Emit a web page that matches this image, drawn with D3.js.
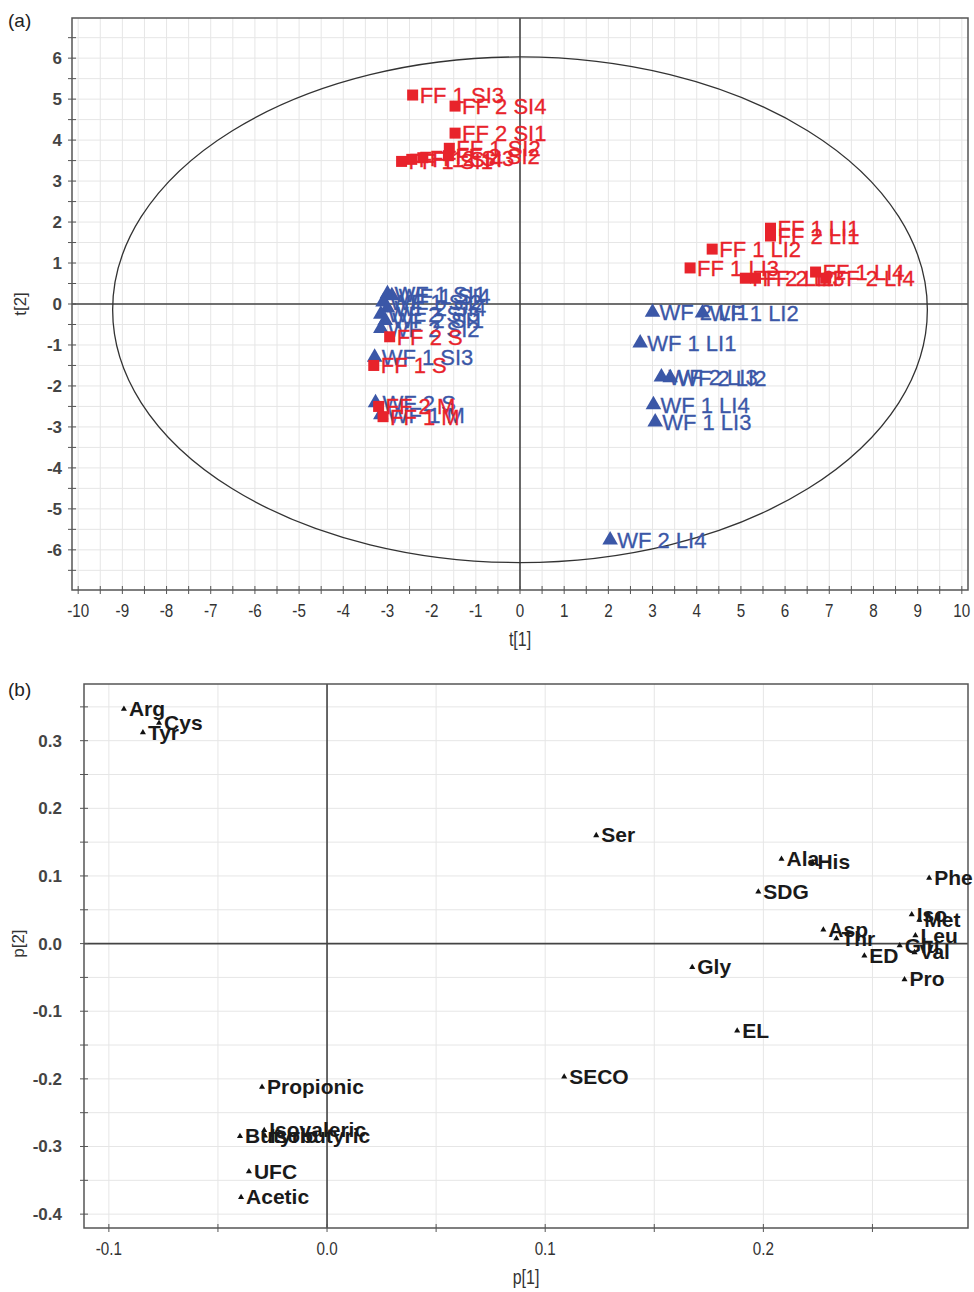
<!DOCTYPE html>
<html>
<head>
<meta charset="utf-8">
<script src="https://cdn.jsdelivr.net/npm/d3@7"></script>
<style>
  body { margin: 0; background: #fff; }
  svg text { font-family: "Liberation Sans", Arial, sans-serif; }
</style>
</head>
<body>
<svg id="chart" width="974" height="1292"></svg>
<script>
// ---- panel (a) scores ----
const ffNames = ['FF 1 SI3', 'FF 2 SI4', 'FF 2 SI1', 'FF 1 SI2', 'FF 1 SI1', 'FF 1 SI4', 'FF 2 SI3', 'FF 2 SI2',
                 'FF 1 LI1', 'FF 2 LI1', 'FF 1 LI2', 'FF 1 LI3', 'FF 2 LI2', 'FF 2 LI3', 'FF 1 LI4', 'FF 2 LI4',
                 'FF 2 S', 'FF 1 S', 'FF 2 M', 'FF 1 M'];
const ffT1 = [-2.43, -1.47, -1.47, -1.6, -2.68, -2.45, -2.2, -1.62,
              5.67, 5.67, 4.35, 3.85, 5.1, 5.33, 6.69, 6.92,
              -2.95, -3.31, -3.2, -3.1];
const ffT2 = [5.1, 4.83, 4.17, 3.8, 3.48, 3.53, 3.57, 3.62,
              1.85, 1.66, 1.34, 0.88, 0.63, 0.63, 0.78, 0.63,
              -0.8, -1.5, -2.5, -2.75];

const wfNames = ['WF 1 SI1', 'WF 1 SI4', 'WF 1 SI2', 'WF 2 SI4', 'WF 2 SI3', 'WF 2 SI1', 'WF 2 SI2',
                 'WF 1 SI3', 'WF 2 S', 'WF 1 M',
                 'WF 2 LI1', 'WF 1 LI2', 'WF 1 LI1', 'WF 2 LI3', 'WF 2 LI2', 'WF 1 LI4', 'WF 1 LI3', 'WF 2 LI4'];
const wfT1 = [-3.0, -2.9, -3.1, -3.0, -3.15, -3.05, -3.15,
              -3.29, -3.27, -3.15,
              3.0, 4.13, 2.72, 3.2, 3.4, 3.02, 3.06, 2.04];
const wfT2 = [0.25, 0.2, 0.05, -0.1, -0.25, -0.4, -0.6,
              -1.3, -2.41, -2.7,
              -0.2, -0.22, -0.95, -1.78, -1.8, -2.46, -2.88, -5.76];

const ellipseCenter = [0, -0.14];
const ellipseRadii = [9.22, 6.17];
const aTicksX = d3.range(-10, 11, 1);
const aTicksY = d3.range(-6, 7, 1);

// ---- panel (b) loadings ----
const varNames = ['Arg', 'Cys', 'Tyr', 'Ser', 'Ala', 'His', 'Phe', 'SDG', 'Iso', 'Met', 'Asp', 'Thr', 'Leu', 'Glu',
                  'Val', 'ED', 'Pro', 'Gly', 'EL', 'SECO', 'Propionic', 'Butyric', 'Isobutyric', 'Isovaleric', 'UFC', 'Acetic'];
const p1 = [-0.0931, -0.077, -0.0844, 0.1234, 0.2083, 0.2225, 0.276, 0.1977, 0.268, 0.2715, 0.2275, 0.2335, 0.2697, 0.2625,
            0.2693, 0.2463, 0.2647, 0.1674, 0.188, 0.1087, -0.0298, -0.0399, -0.0285, -0.0288, -0.0358, -0.0394];
const p2 = [0.347, 0.326, 0.312, 0.16, 0.125, 0.12, 0.097, 0.0765, 0.043, 0.035, 0.0206, 0.0074, 0.0118, -0.003,
            -0.013, -0.018, -0.053, -0.035, -0.129, -0.197, -0.212, -0.285, -0.284, -0.276, -0.337, -0.375];

const bTicksX = [-0.1, 0.0, 0.1, 0.2];
const bTicksY = [-0.4, -0.3, -0.2, -0.1, 0.0, 0.1, 0.2, 0.3];

const red = '#e8232b';
const blue = '#3b57a7';

// plain hyphen instead of d3's unicode minus
const fmt1 = d => d3.format('.1f')(d).replace('\u2212', '-');

const svg = d3.select('#chart');
svg.append('rect').attr('width', 974).attr('height', 1292).attr('fill', '#fff');

// draws grid, frame, zero lines, ticks and tick labels
function drawAxes(x, y, opt) {
  const [x0, x1] = x.range();
  const [y0, y1] = y.range(); // y0 bottom, y1 top
  const g = svg.append('g');

  // grid
  g.selectAll('.gx').data(opt.gridX).enter().append('line')
    .attr('x1', d => x(d)).attr('x2', d => x(d)).attr('y1', y1).attr('y2', y0)
    .attr('stroke', '#e6e6e6').attr('stroke-width', 1);
  g.selectAll('.gy').data(opt.gridY).enter().append('line')
    .attr('y1', d => y(d)).attr('y2', d => y(d)).attr('x1', x0).attr('x2', x1)
    .attr('stroke', '#e6e6e6').attr('stroke-width', 1);

  // zero lines
  g.append('line').attr('x1', x(0)).attr('x2', x(0)).attr('y1', y1).attr('y2', y0)
    .attr('stroke', '#444').attr('stroke-width', 1.6);
  g.append('line').attr('x1', x0).attr('x2', x1).attr('y1', y(0)).attr('y2', y(0))
    .attr('stroke', '#444').attr('stroke-width', 1.6);

  // frame
  g.append('rect').attr('x', x0).attr('y', y1).attr('width', x1 - x0).attr('height', y0 - y1)
    .attr('fill', 'none').attr('stroke', '#555').attr('stroke-width', 1.5);

  // ticks (minor ones too)
  g.selectAll('.tx').data(opt.gridX).enter().append('line')
    .attr('x1', d => x(d)).attr('x2', d => x(d)).attr('y1', y0 - 4).attr('y2', y0 + 4)
    .attr('stroke', '#555');
  g.selectAll('.ty').data(opt.gridY).enter().append('line')
    .attr('y1', d => y(d)).attr('y2', d => y(d)).attr('x1', x0 - 4).attr('x2', x0 + 4)
    .attr('stroke', '#555');

  // x tick labels are narrow in the original, squeeze them
  g.selectAll('.lx').data(opt.ticksX).enter().append('text')
    .attr('transform', d => 'translate(' + x(d) + ',' + (y0 + 27) + ') scale(0.8,1)')
    .attr('text-anchor', 'middle')
    .style('font-size', '19px').attr('fill', '#333')
    .text(opt.fmtX);
  g.selectAll('.ly').data(opt.ticksY).enter().append('text')
    .attr('x', 62).attr('y', d => y(d) + 6)
    .attr('text-anchor', 'end')
    .style('font-size', '17px').style('font-weight', 'bold').attr('fill', '#444')
    .text(opt.fmtY);

  svg.append('text').attr('transform', 'translate(' + (x0 + x1) / 2 + ',' + (y0 + 56) + ') scale(0.8,1)')
    .attr('text-anchor', 'middle')
    .style('font-size', '20px').attr('fill', '#333').text(opt.titleX);
  svg.append('text').attr('transform', 'translate(' + opt.titleYx + ',' + y(0) + ') rotate(-90)')
    .attr('text-anchor', 'middle')
    .style('font-size', '17px').attr('fill', '#333').text(opt.titleY);
  svg.append('text').attr('x', 8).attr('y', opt.panelY)
    .style('font-size', '19px').attr('fill', '#222').text(opt.panel);
}

// ================= panel (a) =================
const xa = d3.scaleLinear().domain([-10.14, 10.14]).range([72, 968]);
const ya = d3.scaleLinear().domain([-6.98, 6.98]).range([590, 18]);

drawAxes(xa, ya, {
  gridX: d3.range(-10, 10.01, 0.5),
  gridY: d3.range(-6.5, 6.51, 0.5),
  ticksX: aTicksX, ticksY: aTicksY,
  fmtX: d => String(d), fmtY: d => String(d),
  titleX: 't[1]', titleY: 't[2]', titleYx: 26,
  panel: '(a)', panelY: 27
});

// Hotelling ellipse
svg.append('ellipse')
  .attr('cx', xa(ellipseCenter[0])).attr('cy', ya(ellipseCenter[1]))
  .attr('rx', xa(ellipseRadii[0]) - xa(0))
  .attr('ry', ya(0) - ya(ellipseRadii[1]))
  .attr('fill', 'none').attr('stroke', '#333').attr('stroke-width', 1.3);

const ffData = ffNames.map((n, i) => ({ name: n, x: ffT1[i], y: ffT2[i] }));
const wfData = wfNames.map((n, i) => ({ name: n, x: wfT1[i], y: wfT2[i] }));

const ga = svg.append('g');
ga.selectAll('.wf').data(wfData).enter().append('path')
  .attr('d', d3.symbol().type(d3.symbolTriangle).size(105))
  .attr('transform', d => 'translate(' + xa(d.x) + ',' + ya(d.y) + ')')
  .attr('fill', blue);
ga.selectAll('.wft').data(wfData).enter().append('text')
  .attr('x', d => xa(d.x) + 7).attr('y', d => ya(d.y) + 8)
  .style('font-size', '22px').attr('fill', blue)
  .attr('stroke', blue).attr('stroke-width', 0.3)
  .text(d => d.name);

ga.selectAll('.ff').data(ffData).enter().append('rect')
  .attr('x', d => xa(d.x) - 5.5).attr('y', d => ya(d.y) - 5.5)
  .attr('width', 11).attr('height', 11)
  .attr('fill', red);
ga.selectAll('.fft').data(ffData).enter().append('text')
  .attr('x', d => xa(d.x) + 7).attr('y', d => ya(d.y) + 8)
  .style('font-size', '22px').attr('fill', red)
  .attr('stroke', red).attr('stroke-width', 0.3)
  .text(d => d.name);

// ================= panel (b) =================
const xb = d3.scaleLinear().domain([-0.1114, 0.2938]).range([84, 968]);
const yb = d3.scaleLinear().domain([-0.4205, 0.3838]).range([1228, 684]);

drawAxes(xb, yb, {
  gridX: d3.range(-0.1, 0.2501, 0.05),
  gridY: d3.range(-0.4, 0.3501, 0.05),
  ticksX: bTicksX, ticksY: bTicksY,
  fmtX: fmt1, fmtY: fmt1,
  titleX: 'p[1]', titleY: 'p[2]', titleYx: 24,
  panel: '(b)', panelY: 696
});

const varData = varNames.map((n, i) => ({ name: n, x: p1[i], y: p2[i] }));
const gb = svg.append('g');
gb.selectAll('.v').data(varData).enter().append('path')
  .attr('d', d3.symbol().type(d3.symbolTriangle).size(16))
  .attr('transform', d => 'translate(' + xb(d.x) + ',' + yb(d.y) + ')')
  .attr('fill', '#111');
gb.selectAll('.vt').data(varData).enter().append('text')
  .attr('x', d => xb(d.x) + 5).attr('y', d => yb(d.y) + 7)
  .style('font-size', '21px').style('font-weight', 'bold').attr('fill', '#1a1a1a')
  .text(d => d.name);
</script>
</body>
</html>
